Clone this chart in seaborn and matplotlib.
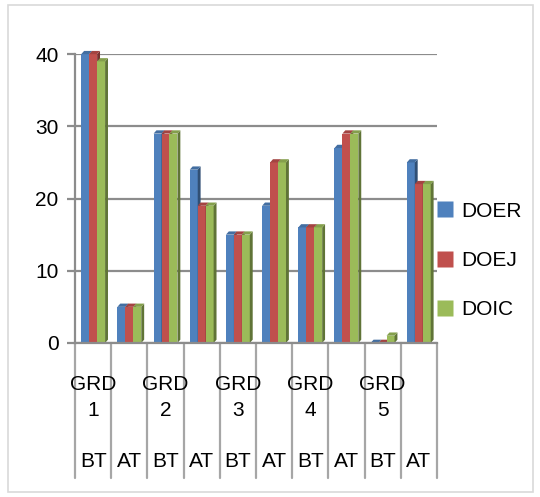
import matplotlib
matplotlib.use("Agg")
import matplotlib.pyplot as plt
import seaborn as sns
import pandas as pd
from matplotlib.patches import Rectangle, Polygon
from matplotlib.lines import Line2D

grades = ["GRD\n1", "GRD\n2", "GRD\n3", "GRD\n4", "GRD\n5"]
phases = ["BT", "AT"]
categories = [f"{g.replace(chr(10), ' ')} {p}" for g in grades for p in phases]
series = ["DOER", "DOEJ", "DOIC"]
doer = [40, 5, 29, 24, 15, 19, 16, 27, 0, 25]
doej = [40, 5, 29, 19, 15, 25, 16, 29, 0, 22]
doic = [39, 5, 29, 19, 15, 25, 16, 29, 1, 22]
colors = ["#4F81BD", "#C0504D", "#9BBB59"]

rows = []
for s, vals in zip(series, [doer, doej, doic]):
    for c, v in zip(categories, vals):
        rows.append({"cat": c, "series": s, "value": v})
df = pd.DataFrame(rows)

sns.set_style("white")
plt.rcParams["font.family"] = ["Liberation Sans", "DejaVu Sans"]
plt.rcParams["text.color"] = "black"
plt.rcParams["ytick.labelcolor"] = "black"

fig = plt.figure(figsize=(5.4, 4.97), dpi=100)
ax = fig.add_axes([0.139, 0.31, 0.67, 0.581])
sns.barplot(data=df, x="cat", y="value", hue="series", order=categories,
            hue_order=series, palette=colors, width=0.66, saturation=1,
            edgecolor="none", ax=ax, legend=False)

ax.set_ylim(0, 40)
ax.set_xlim(-0.5, len(categories) - 0.5)

# pseudo-3D side and top faces derived from the bar patches
n = len(categories)
dx, dy = 0.08, 0.45
bars = list(ax.patches)
for k, p in enumerate(bars):
    si = k // n
    base_z = 2 + si * 0.1
    p.set_zorder(base_z)
    x, w, h = p.get_x(), p.get_width(), p.get_height()
    fc = p.get_facecolor()
    dark = tuple(c * 0.62 for c in fc[:3])
    mid = tuple(c * 0.85 for c in fc[:3])
    side = Polygon([(x + w, 0), (x + w + dx, dy), (x + w + dx, h + dy), (x + w, h)],
                   closed=True, facecolor=dark, edgecolor="none",
                   zorder=base_z + 0.05, clip_on=False)
    top = Polygon([(x, h), (x + dx, h + dy), (x + w + dx, h + dy), (x + w, h)],
                  closed=True, facecolor=mid, edgecolor="none",
                  zorder=base_z + 0.05, clip_on=False)
    ax.add_patch(side)
    ax.add_patch(top)

ax.set_yticks([0, 10, 20, 30, 40])
ax.set_xticks([])
ax.set_xlabel("")
ax.set_ylabel("")
ax.yaxis.grid(True, color="#8C8C8C", linewidth=1.6)
ax.set_axisbelow(True)
for side_name in ["top", "right"]:
    ax.spines[side_name].set_visible(False)
for side_name in ["left", "bottom"]:
    ax.spines[side_name].set_color("#8C8C8C")
    ax.spines[side_name].set_linewidth(1.6)
ax.tick_params(axis="y", left=True, length=6, width=1.6, color="#8C8C8C",
               labelsize=15, pad=6, labelcolor="black")

tr = ax.get_xaxis_transform()
for i in range(n + 1):
    ax.plot([i - 0.5, i - 0.5], [0, -0.467], transform=tr, color="#A6A6A6",
            linewidth=1.6, clip_on=False)
for gi, g in enumerate(grades):
    ax.text(2 * gi, -0.19, g, transform=tr, ha="center", va="center",
            fontsize=15, linespacing=1.45, color="black")
for ci, c in enumerate(categories):
    ax.text(ci, -0.412, c.split()[-1], transform=tr, ha="center", va="center",
            fontsize=15, color="black")

handles = [Line2D([0], [0], marker="s", linestyle="none", markersize=11,
                  markerfacecolor=col, markeredgecolor="none") for col in colors]
leg = fig.legend(handles, series, loc="center left", bbox_to_anchor=(0.77, 0.476),
                 frameon=False, fontsize=15, handletextpad=0.3, labelspacing=1.45,
                 handlelength=1.0)
for t in leg.get_texts():
    t.set_color("black")

fig.patches.append(Rectangle((0.015, 0.01), 0.972, 0.98, transform=fig.transFigure,
                             fill=False, edgecolor="#D9D9D9", linewidth=1.2))

fig.savefig("out.png", dpi=100)
